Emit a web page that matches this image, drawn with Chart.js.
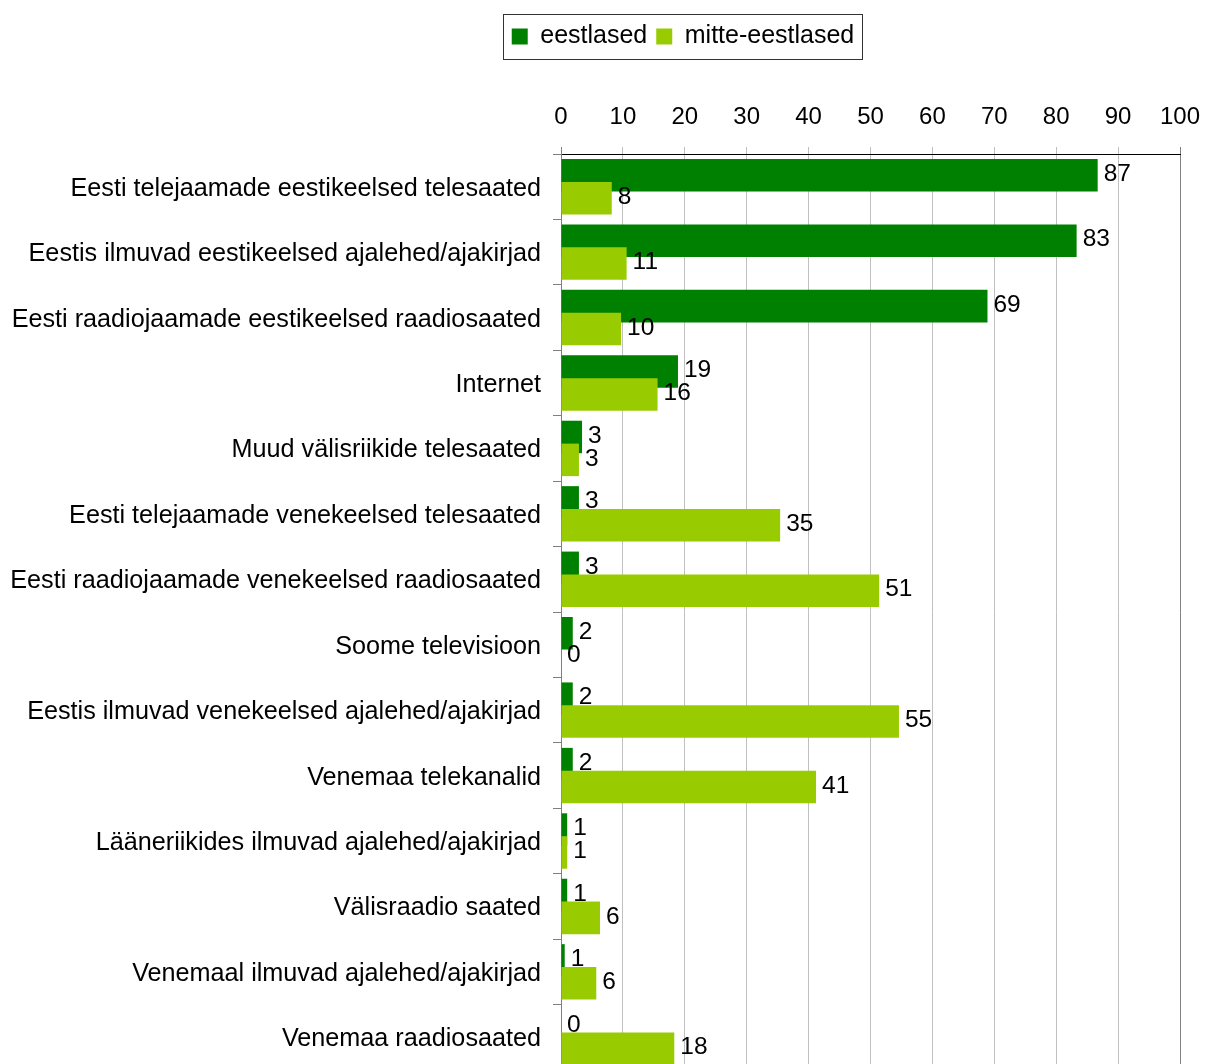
<!DOCTYPE html>
<html>
<head>
<meta charset="utf-8">
<script src="https://cdn.jsdelivr.net/npm/chart.js@4.4.1/dist/chart.umd.min.js"></script>
<style>
  html, body { margin: 0; padding: 0; background: #fff; overflow: hidden; }
  #wrap { position: relative; width: 1205px; height: 1072px; }
</style>
</head>
<body>
<div id="wrap"><canvas id="myChart"></canvas></div>
<script>
// Kategooriad (ülevalt alla)
const categories = [
    'Eesti telejaamade eestikeelsed telesaated',
    'Eestis ilmuvad eestikeelsed ajalehed/ajakirjad',
    'Eesti raadiojaamade eestikeelsed raadiosaated',
    'Internet',
    'Muud välisriikide telesaated',
    'Eesti telejaamade venekeelsed telesaated',
    'Eesti raadiojaamade venekeelsed raadiosaated',
    'Soome televisioon',
    'Eestis ilmuvad venekeelsed ajalehed/ajakirjad',
    'Venemaa telekanalid',
    'Lääneriikides ilmuvad ajalehed/ajakirjad',
    'Välisraadio saated',
    'Venemaal ilmuvad ajalehed/ajakirjad',
    'Venemaa raadiosaated'
];

const seriesNames = ['eestlased', 'mitte-eestlased'];

// Väärtused (%), loetud tulpade pikkusest
const eestlased = [86.7, 83.3, 68.9, 18.9, 3.4, 2.9, 2.9, 1.9, 1.9, 1.9, 1.0, 1.0, 0.6, 0];
const mitteEestlased = [8.2, 10.6, 9.7, 15.6, 2.9, 35.4, 51.4, 0, 54.6, 41.2, 1.0, 6.3, 5.7, 18.3];

// X-telje skaala
const xMin = 0;
const xMax = 100;
const xStep = 10;

const FONT = '"Liberation Sans", Arial, sans-serif';
Chart.defaults.font.family = FONT;
Chart.defaults.color = '#000';

// Tumeroheline seeria joonistatakse enne, et heleroheline jääks peale
const drawOrder = {
    id: 'drawOrder',
    beforeDatasetsDraw(chart) {
        const meta = chart.getDatasetMeta(0);
        if (meta.visible) meta.controller.draw();
    },
    beforeDatasetDraw(chart, args) {
        if (args.index === 0) return false;
    }
};

// Tulpade järel olevad arvud
const valueLabels = {
    id: 'valueLabels',
    afterDatasetsDraw(chart) {
        const ctx = chart.ctx;
        ctx.save();
        ctx.font = '24.5px ' + FONT;
        ctx.fillStyle = '#000';
        ctx.textAlign = 'left';
        ctx.textBaseline = 'middle';
        chart.data.datasets.forEach((ds, i) => {
            chart.getDatasetMeta(i).data.forEach((bar, j) => {
                ctx.fillText(String(Math.round(ds.data[j])), bar.x + 6, bar.y - 1);
            });
        });
        ctx.restore();
    }
};

// Legend nihutatakse paremale ja saab raami
const legendBox = {
    id: 'legendBox',
    afterLayout(chart) {
        const lg = chart.legend;
        const shift = 683 - (lg.left + lg.right) / 2;
        lg.left += shift;
        lg.right += shift;
    },
    afterDraw(chart) {
        const boxes = chart.legend.legendHitBoxes;
        if (!boxes || !boxes.length) return;
        const last = boxes[boxes.length - 1];
        const l = Math.round(boxes[0].left - 9);
        const r = Math.round(last.left + last.width + 8);
        const cy = boxes[0].top + boxes[0].height / 2;
        const t = Math.round(cy - 22.5);
        const ctx = chart.ctx;
        ctx.save();
        ctx.strokeStyle = '#333';
        ctx.lineWidth = 1;
        ctx.strokeRect(l + 0.5, t + 0.5, r - l, 45);
        ctx.restore();
    }
};

const ctx = document.getElementById('myChart').getContext('2d');
const myChart = new Chart(ctx, {
    type: 'bar',
    data: {
        labels: categories,
        datasets: [
            {
                label: seriesNames[0],
                data: eestlased,
                backgroundColor: '#008000',
                borderWidth: 0,
                categoryPercentage: 0.7,
                barPercentage: 1.42
            },
            {
                label: seriesNames[1],
                data: mitteEestlased,
                backgroundColor: '#99cc00',
                borderWidth: 0,
                categoryPercentage: 0.7,
                barPercentage: 1.42
            }
        ]
    },
    options: {
        indexAxis: 'y',
        responsive: true,
        maintainAspectRatio: false,
        animation: false,
        layout: {
            padding: { left: 0, right: 25, top: 15, bottom: 2 }
        },
        plugins: {
            tooltip: { enabled: false },
            legend: {
                position: 'top',
                labels: {
                    font: { size: 25 },
                    boxWidth: 16,
                    boxHeight: 16,
                    padding: 9,
                    color: '#000'
                }
            }
        },
        scales: {
            x: {
                position: 'top',
                min: xMin,
                max: xMax,
                ticks: {
                    stepSize: xStep,
                    font: { size: 24 },
                    color: '#000',
                    padding: 15,
                    maxRotation: 0
                },
                grid: {
                    color: c => (c.index === 0 || c.index === 10) ? '#808080' : '#c0c0c0',
                    lineWidth: 1,
                    tickLength: 7
                },
                border: { color: '#000', width: 1 },
                afterFit: s => {
                    s.height = 95;
                    s.paddingLeft = 0;
                    s.paddingRight = 0;
                }
            },
            y: {
                ticks: {
                    font: { size: 25.2 },
                    color: '#000',
                    padding: 12,
                    labelOffset: 2,
                    autoSkip: false
                },
                grid: {
                    drawOnChartArea: false,
                    color: '#808080',
                    tickLength: 8
                },
                border: { color: '#808080', width: 1 },
                afterFit: s => {
                    s.width = 561;
                    s.paddingTop = 0;
                    s.paddingBottom = 0;
                }
            }
        }
    },
    plugins: [drawOrder, valueLabels, legendBox]
});
</script>
</body>
</html>
